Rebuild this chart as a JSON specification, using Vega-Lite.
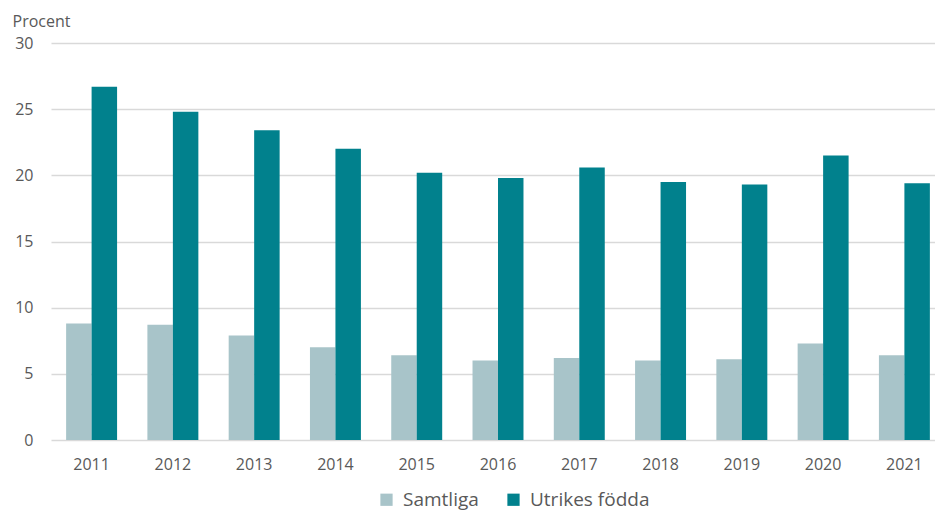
{
  "$schema": "https://vega.github.io/schema/vega-lite/v6.json",
  "width": 894,
  "height": 397,
  "padding": {"left": 51, "top": 43, "right": 0, "bottom": 71},
  "autosize": {"type": "none"},
  "background": "white",
  "config": {
    "view": {"stroke": null},
    "font": "Open Sans",
    "axis": {"labelFont": "Open Sans", "titleFont": "Open Sans", "labelColor": "#595959", "titleColor": "#595959"},
    "legend": {"labelFont": "Open Sans"}
  },
  "data": {
    "values": [
      {"year": "2011", "group": "Samtliga", "value": 8.8},
      {"year": "2012", "group": "Samtliga", "value": 8.7},
      {"year": "2013", "group": "Samtliga", "value": 7.9},
      {"year": "2014", "group": "Samtliga", "value": 7.0},
      {"year": "2015", "group": "Samtliga", "value": 6.4},
      {"year": "2016", "group": "Samtliga", "value": 6.0},
      {"year": "2017", "group": "Samtliga", "value": 6.2},
      {"year": "2018", "group": "Samtliga", "value": 6.0},
      {"year": "2019", "group": "Samtliga", "value": 6.1},
      {"year": "2020", "group": "Samtliga", "value": 7.3},
      {"year": "2021", "group": "Samtliga", "value": 6.4},
      {"year": "2011", "group": "Utrikes födda", "value": 26.7},
      {"year": "2012", "group": "Utrikes födda", "value": 24.8},
      {"year": "2013", "group": "Utrikes födda", "value": 23.4},
      {"year": "2014", "group": "Utrikes födda", "value": 22.0},
      {"year": "2015", "group": "Utrikes födda", "value": 20.2},
      {"year": "2016", "group": "Utrikes födda", "value": 19.8},
      {"year": "2017", "group": "Utrikes födda", "value": 20.6},
      {"year": "2018", "group": "Utrikes födda", "value": 19.5},
      {"year": "2019", "group": "Utrikes födda", "value": 19.3},
      {"year": "2020", "group": "Utrikes födda", "value": 21.5},
      {"year": "2021", "group": "Utrikes födda", "value": 19.4}
    ]
  },
  "mark": {"type": "bar"},
  "encoding": {
    "x": {
      "field": "year", "type": "nominal",
      "scale": {"paddingInner": 0.373, "paddingOuter": 0.186},
      "axis": {"title": null, "labelAngle": 0, "ticks": false, "domain": false, "labelPadding": 16, "labelFontSize": 16, "grid": false}
    },
    "xOffset": {"field": "group", "type": "nominal", "scale": {"domain": ["Samtliga", "Utrikes födda"]}},
    "y": {
      "field": "value", "type": "quantitative",
      "scale": {"domain": [0, 30], "nice": false},
      "axis": {
        "values": [0, 5, 10, 15, 20, 25, 30],
        "title": "Procent", "titleAngle": 0, "titleAlign": "left", "titleBaseline": "alphabetic",
        "titleX": -39, "titleY": -17, "titleFontSize": 16, "titleFontWeight": "normal",
        "labelFontSize": 16, "labelPadding": 18, "ticks": false, "domain": false,
        "gridColor": "#D9D9D9", "gridWidth": 1.3
      }
    },
    "color": {
      "field": "group", "type": "nominal",
      "scale": {"domain": ["Samtliga", "Utrikes födda"], "range": ["#A8C4C9", "#01818D"]},
      "legend": {
        "title": null, "orient": "none", "direction": "horizontal",
        "legendX": 326, "legendY": 447,
        "symbolType": "square", "symbolSize": 150, "symbolStrokeWidth": 0,
        "labelFontSize": 19, "labelColor": "#595959", "columnPadding": 25, "labelOffset": 7
      }
    }
  }
}
